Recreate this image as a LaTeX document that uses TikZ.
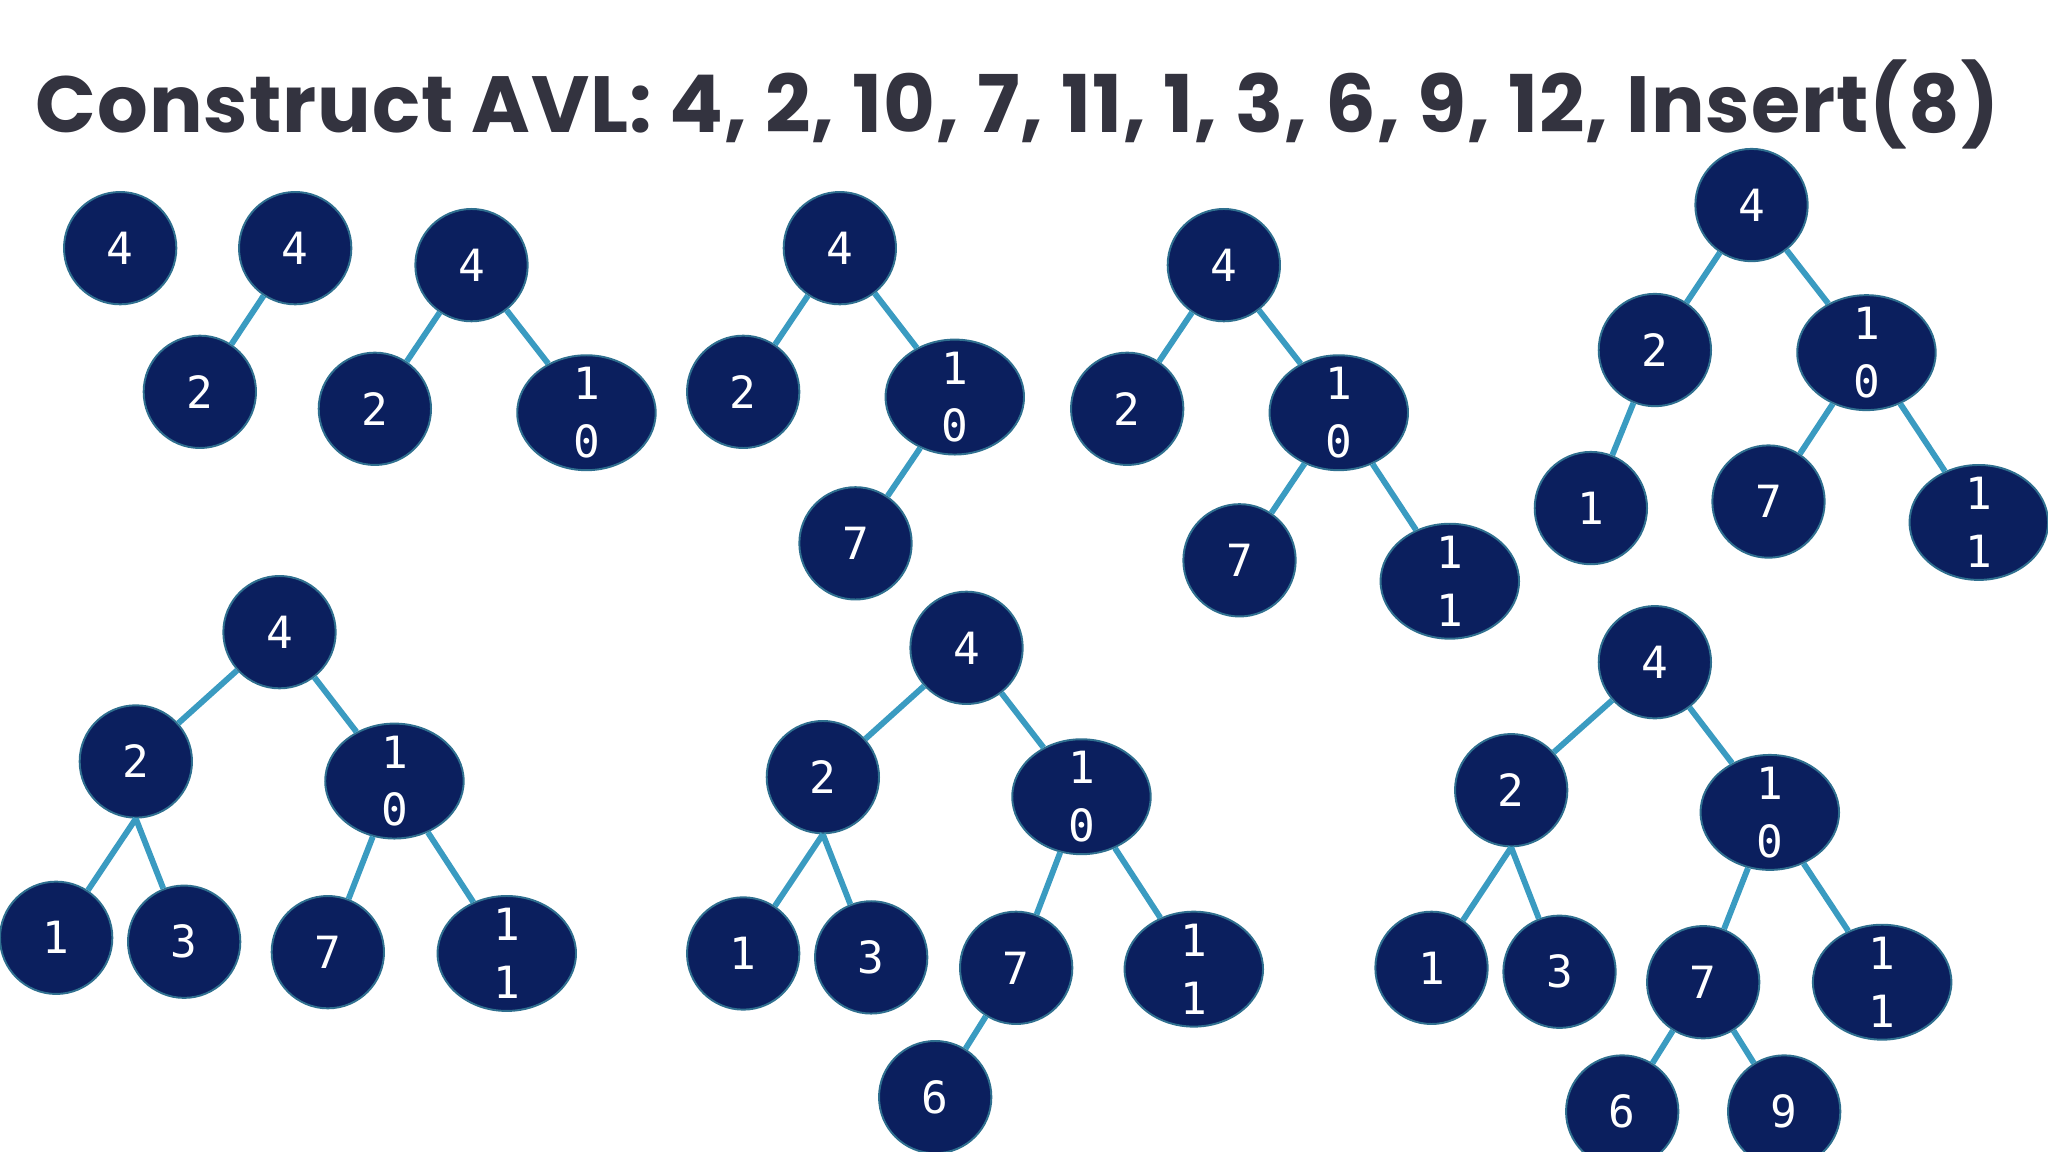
\documentclass[tikz,border=0pt]{standalone}
\usepackage{fontspec}
\setmainfont{Poppins}
\newfontfamily\monof{DejaVu Sans Mono}
\usetikzlibrary{shapes.geometric}
\definecolor{navy}{HTML}{0B1F5E}
\definecolor{rim}{HTML}{2F6F8F}
\definecolor{edgec}{HTML}{3A9BC1}
\definecolor{titlec}{HTML}{33333F}
\tikzset{
 nd/.style={circle,fill=navy,draw=rim,line width=1.5pt,minimum size=86pt,inner sep=0pt,text=white,font=\monof\fontsize{34}{36}\selectfont},
 nw/.style={ellipse,fill=navy,draw=rim,line width=1.5pt,minimum width=106pt,minimum height=88pt,inner sep=-6pt,text=white,align=center,font=\monof\fontsize{34}{44}\selectfont},
 ed/.style={draw=edgec,line width=4.5pt}
}
\begin{document}
\begin{tikzpicture}[x=1pt,y=-1pt]
\useasboundingbox (0,0) rectangle (1568,882);
\node[text=titlec,font=\bfseries\fontsize{61}{63}\selectfont] (title) at (779,80) {\addfontfeatures{LetterSpace=1.2}Construct AVL: 4, 2, 10, 7, 11, 1, 3, 6, 9, 12, Insert(8)};
% tree 1
\node[nd] (a4) at (92,190) {4};
% tree 2
\node[nd] (b4) at (226,190) {4};
\node[nd] (b2) at (153,300) {2};
\draw[ed] (b4) -- (b2);
% tree 3
\node[nd] (c4) at (361,203) {4};
\node[nd] (c2) at (287,313) {2};
\node[nw] (c10) at (449,316) {1\\0};
\draw[ed] (c4)--(c2) (c4)--(c10);
% tree 4
\node[nd] (d4) at (643,190) {4};
\node[nd] (d2) at (569,300) {2};
\node[nw] (d10) at (731,304) {1\\0};
\node[nd] (d7) at (655,416) {7};
\draw[ed] (d4)--(d2) (d4)--(d10) (d10)--(d7);
% tree 5
\node[nd] (e4) at (937,203) {4};
\node[nd] (e2) at (863,313) {2};
\node[nw] (e10) at (1025,316) {1\\0};
\node[nd] (e7) at (949,429) {7};
\node[nw] (e11) at (1110,445) {1\\1};
\draw[ed] (e4)--(e2) (e4)--(e10) (e10)--(e7) (e10)--(e11);
% tree 6
\node[nd] (f4) at (1341,157) {4};
\node[nd] (f2) at (1267,268) {2};
\node[nw] (f10) at (1429,270) {1\\0};
\node[nd] (f1) at (1218,389) {1};
\node[nd] (f7) at (1354,384) {7};
\node[nw] (f11) at (1515,400) {1\\1};
\draw[ed] (f4)--(f2) (f4)--(f10) (f2)--(f1) (f10)--(f7) (f10)--(f11);
% tree 7
\node[nd] (g4) at (214,484) {4};
\node[nd] (g2) at (104,583) {2};
\node[nw] (g10) at (302,598) {1\\0};
\node[nd] (g1) at (43,718) {1};
\node[nd] (g3) at (141,721) {3};
\node[nd] (g7) at (251,729) {7};
\node[nw] (g11) at (388,730) {1\\1};
\draw[ed] (g4)--(g2) (g4)--(g10) (g2.south)--(g1) (g2.south)--(g3) (g10)--(g7) (g10)--(g11);
% tree 8
\node[nd] (h4) at (740,496) {4};
\node[nd] (h2) at (630,595) {2};
\node[nw] (h10) at (828,610) {1\\0};
\node[nd] (h1) at (569,730) {1};
\node[nd] (h3) at (667,733) {3};
\node[nd] (h7) at (778,741) {7};
\node[nw] (h11) at (914,742) {1\\1};
\node[nd] (h6) at (716,840) {6};
\draw[ed] (h4)--(h2) (h4)--(h10) (h2.south)--(h1) (h2.south)--(h3) (h10)--(h7) (h10)--(h11) (h7)--(h6);
% tree 9
\node[nd] (k4) at (1267,507) {4};
\node[nd] (k2) at (1157,605) {2};
\node[nw] (k10) at (1355,622) {1\\0};
\node[nd] (k1) at (1096,741) {1};
\node[nd] (k3) at (1194,744) {3};
\node[nd] (k7) at (1304,752) {7};
\node[nw] (k11) at (1441,752) {1\\1};
\node[nd] (k6) at (1242,851) {6};
\node[nd] (k9) at (1366,851) {9};
\draw[ed] (k4)--(k2) (k4)--(k10) (k2.south)--(k1) (k2.south)--(k3) (k10)--(k7) (k10)--(k11) (k7)--(k6) (k7)--(k9);
\end{tikzpicture}
\end{document}
